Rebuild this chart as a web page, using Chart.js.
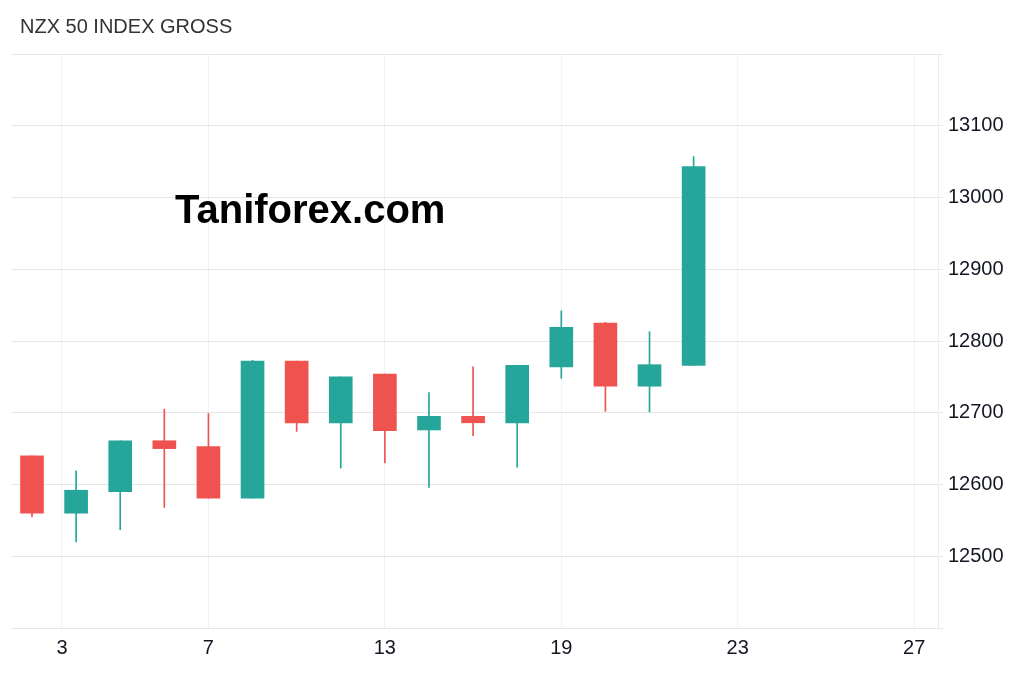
<!DOCTYPE html>
<html>
<head>
<meta charset="utf-8">
<title>NZX 50 INDEX GROSS</title>
<script src="https://cdn.jsdelivr.net/npm/chart.js@4.4.1/dist/chart.umd.min.js"></script>
<style>
  body { margin: 0; background: #fff; }
  #wrap { position: relative; width: 1024px; height: 679px; }
  #titulo { position: absolute; left: 20px; top: 15px; font: 20px 'Liberation Sans', Arial, sans-serif; color: #333; }
  #marca { position: absolute; left: 175px; top: 187px; font: bold 40px 'Liberation Sans', Arial, sans-serif; color: #000; }
</style>
</head>
<body>
<div id="wrap">
  <canvas id="grafica" width="1024" height="679"></canvas>
  <div id="titulo">NZX 50 INDEX GROSS</div>
  <div id="marca">Taniforex.com</div>
</div>
<script>
// velas diarias (indice de sesion 0..15)
const aperturas = [12640, 12560, 12590, 12661, 12653, 12581, 12772, 12686, 12754, 12676, 12695, 12686, 12764, 12825, 12737, 12766];
const maximos   = [12640, 12619, 12661, 12705, 12699, 12773, 12772, 12750, 12754, 12728, 12764, 12766, 12842, 12826, 12813, 13057];
const minimos   = [12555, 12520, 12537, 12568, 12581, 12581, 12674, 12623, 12630, 12596, 12668, 12624, 12748, 12702, 12701, 12766];
const cierres   = [12560, 12592, 12661, 12650, 12581, 12772, 12686, 12750, 12675, 12695, 12686, 12766, 12819, 12737, 12767, 13043];

// marcas del eje x (posicion en sesiones) y sus textos
const posTicks = [0.68, 4, 8, 12, 16, 20];
const textoTicks = ['3', '7', '13', '19', '23', '27'];

const VERDE = '#26a69a';
const ROJO = '#ef5350';

const colores = aperturas.map((o, i) => cierres[i] >= o ? VERDE : ROJO);
const cuerpos = aperturas.map((o, i) => ({ x: i, y: [o, cierres[i]] }));
const mechas = minimos.map((l, i) => ({ x: i, y: [l, maximos[i]] }));

const fuente = "'Liberation Sans', Arial, sans-serif";

new Chart(document.getElementById('grafica').getContext('2d'), {
    type: 'bar',
    data: {
        datasets: [
            { data: mechas, backgroundColor: colores, barThickness: 1, grouped: false, order: 2 },
            { data: cuerpos, backgroundColor: colores, barThickness: 23, grouped: false, order: 1 }
        ]
    },
    options: {
        responsive: false,
        animation: false,
        devicePixelRatio: 1,
        layout: { padding: { left: 11, top: 54, right: 0, bottom: 0 } },
        plugins: { legend: { display: false }, tooltip: { enabled: false } },
        scales: {
            x: {
                type: 'linear',
                offset: false,
                min: -0.476,
                max: 20.54,
                afterBuildTicks: (s) => { s.ticks = posTicks.map(v => ({ value: v })); },
                afterFit: (s) => { s.height = 51; },
                ticks: {
                    autoSkip: false,
                    maxRotation: 0,
                    padding: 8,
                    color: '#131722',
                    font: { family: fuente, size: 20 },
                    callback: (v, i) => textoTicks[i]
                },
                grid: { color: '#f0f3fa', drawTicks: false, offset: false },
                border: { display: false }
            },
            y: {
                position: 'right',
                min: 12400,
                max: 13200,
                afterFit: (s) => { s.width = 86; },
                ticks: {
                    stepSize: 100,
                    padding: 5,
                    color: '#131722',
                    font: { family: fuente, size: 20 },
                    callback: (v) => (v <= 12400 || v >= 13200) ? '' : v
                },
                grid: { color: '#e6e6e6', tickLength: 5 },
                border: { display: true, color: '#e8ebf0' }
            }
        }
    }
});
</script>
</body>
</html>
